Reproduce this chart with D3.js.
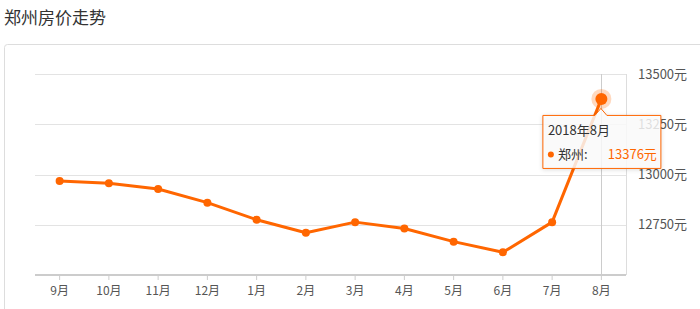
<!DOCTYPE html>
<html>
<head>
<meta charset="utf-8">
<script src="https://cdn.jsdelivr.net/npm/d3@7"></script>
<style>
  body { margin: 0; background: #fff; }
  text { font-family: "Noto Sans CJK SC", "Noto Sans", sans-serif; }
</style>
</head>
<body>
<div id="chart"></div>
<script>
// data
var title = "郑州房价走势";
var months = ["9月", "10月", "11月", "12月", "1月", "2月", "3月", "4月", "5月", "6月", "7月", "8月"];
var prices = [12968, 12956, 12928, 12860, 12775, 12710, 12763, 12731, 12666, 12613, 12763, 13376];
var yTicks = [12750, 13000, 13250, 13500];
var tipDate = "2018年8月";
var city = "郑州";

var width = 700, height = 309;
var plot = {left: 35, right: 626, top: 74, bottom: 275};
var orange = "#ff6600";

var svg = d3.select("#chart").append("svg")
    .attr("width", width)
    .attr("height", height);

// title
svg.append("text")
    .attr("x", 4)
    .attr("y", 24)
    .attr("fill", "#333")
    .style("font-size", "17px")
    .text(title);

// panel border
svg.append("rect")
    .attr("x", 4.5)
    .attr("y", 44.5)
    .attr("width", 720)
    .attr("height", 300)
    .attr("rx", 3)
    .attr("fill", "none")
    .attr("stroke", "#ddd");

var x = d3.scaleBand()
    .domain(months)
    .range([plot.left, plot.right]);

var y = d3.scaleLinear()
    .domain([12500, 13500])
    .range([plot.bottom, plot.top]);

function cx(d, i) { return x(months[i]) + x.bandwidth() / 2; }

// gridlines
svg.append("g")
    .selectAll("line")
    .data(yTicks)
    .enter().append("line")
    .attr("x1", plot.left)
    .attr("x2", plot.right)
    .attr("y1", function(d) { return Math.round(y(d)) + 0.5; })
    .attr("y2", function(d) { return Math.round(y(d)) + 0.5; })
    .attr("stroke", "#e3e3e3");

// right axis line
svg.append("line")
    .attr("x1", plot.right + 0.5)
    .attr("x2", plot.right + 0.5)
    .attr("y1", y(13500))
    .attr("y2", plot.bottom)
    .attr("stroke", "#ddd");

// y labels on the right
var yAxis = svg.append("g")
    .attr("transform", "translate(" + plot.right + ",0)")
    .call(d3.axisRight(y).tickValues(yTicks).tickSize(0).tickPadding(12)
        .tickFormat(function(d) { return d + "元"; }));
yAxis.select(".domain").remove();
yAxis.selectAll("text")
    .attr("fill", "#555")
    .style("font-size", "13px")
    .style("font-family", "'Noto Sans CJK SC', sans-serif");

// crosshair on the hovered month
var last = months.length - 1;
svg.append("line")
    .attr("x1", Math.round(cx(null, last)) + 0.5)
    .attr("x2", Math.round(cx(null, last)) + 0.5)
    .attr("y1", y(13500))
    .attr("y2", plot.bottom)
    .attr("stroke", "#ccc");

// x axis
var xAxis = svg.append("g")
    .attr("transform", "translate(0," + plot.bottom + ")")
    .call(d3.axisBottom(x).tickSize(5).tickPadding(6));
xAxis.select(".domain").attr("stroke", "#ccc").attr("stroke-width", 2)
    .attr("d", "M" + plot.left + ",0H" + plot.right);
xAxis.selectAll(".tick line").attr("stroke", "#ccc");
xAxis.selectAll("text")
    .attr("fill", "#555")
    .style("font-size", "12px")
    .style("font-family", "'Noto Sans CJK SC', sans-serif");

// line
var line = d3.line()
    .x(cx)
    .y(function(d) { return y(d); });

svg.append("path")
    .datum(prices)
    .attr("fill", "none")
    .attr("stroke", orange)
    .attr("stroke-width", 3)
    .attr("stroke-linejoin", "round")
    .attr("d", line);

svg.append("g")
    .selectAll("circle")
    .data(prices)
    .enter().append("circle")
    .attr("cx", cx)
    .attr("cy", function(d) { return y(d); })
    .attr("r", function(d, i) { return i === last ? 0 : 4; })
    .attr("fill", orange);

// highlighted point
var hx = cx(null, last), hy = y(prices[last]);
svg.append("circle")
    .attr("cx", hx).attr("cy", hy).attr("r", 10)
    .attr("fill", orange).attr("opacity", 0.25);
svg.append("circle")
    .attr("cx", hx).attr("cy", hy).attr("r", 6)
    .attr("fill", orange);

// tooltip
var tip = svg.append("g")
    .attr("transform", "translate(" + (hx - 58.5) + "," + (hy + 16.5) + ")");

tip.append("path")
    .attr("d", "M0,0H52L58,-7L64,0H118V53H0Z")
    .attr("fill", "rgba(255,255,255,0.82)")
    .attr("stroke", orange)
    .attr("stroke-width", 1)
    .style("filter", "drop-shadow(0 1px 2px rgba(0,0,0,0.15))");

tip.append("text")
    .attr("x", 5)
    .attr("y", 20)
    .attr("fill", "#333")
    .style("font-size", "13px")
    .text(tipDate);

tip.append("circle")
    .attr("cx", 8)
    .attr("cy", 39)
    .attr("r", 3)
    .attr("fill", orange);

tip.append("text")
    .attr("x", 15)
    .attr("y", 44)
    .attr("fill", "#333")
    .style("font-size", "13px")
    .text(city + ":");

tip.append("text")
    .attr("x", 114)
    .attr("y", 44)
    .attr("text-anchor", "end")
    .attr("fill", orange)
    .style("font-size", "13px")
    .text(prices[last] + "元");
</script>
</body>
</html>
